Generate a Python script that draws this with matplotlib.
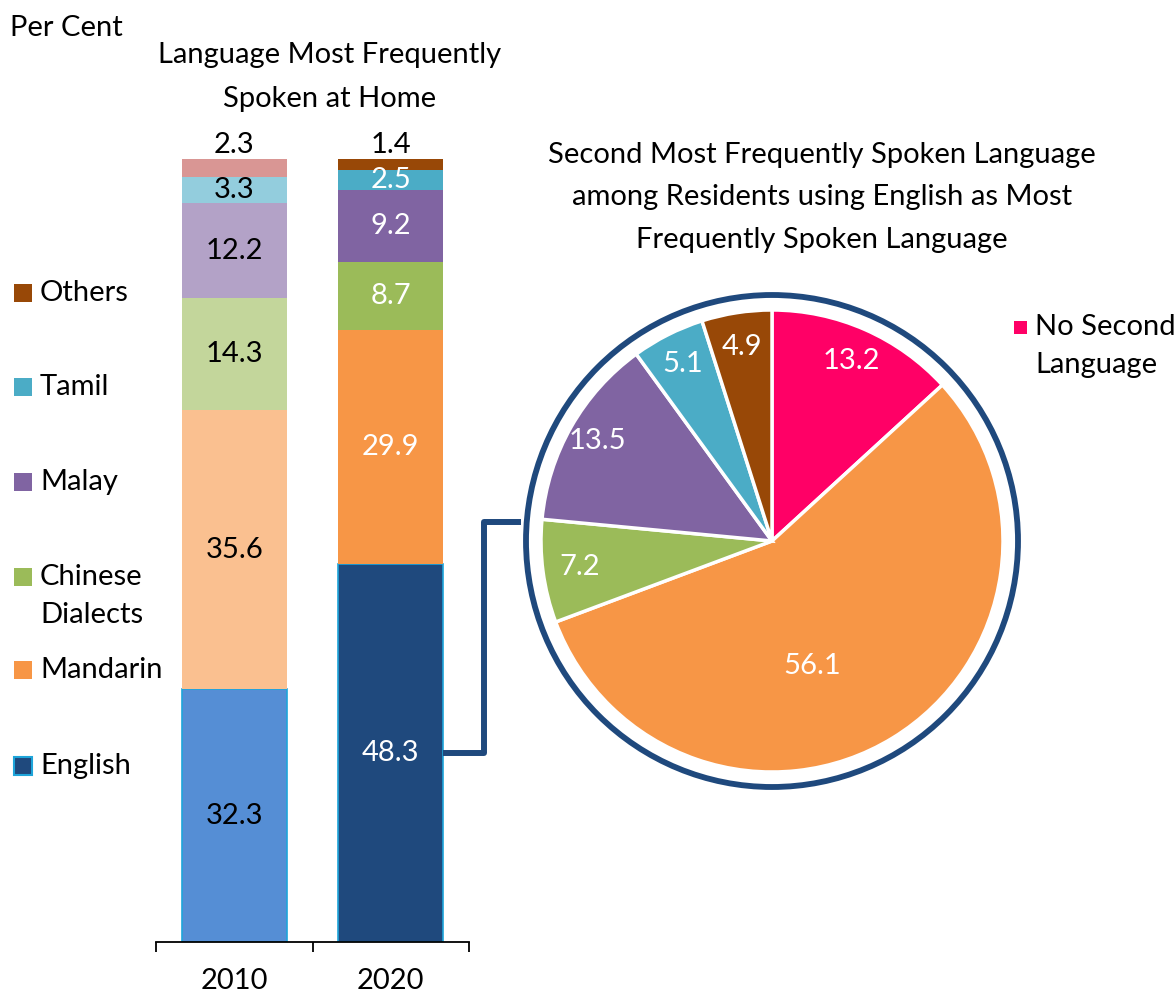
import numpy as np
import matplotlib.pyplot as plt
from matplotlib.patches import Circle, Rectangle

plt.rcParams['font.family'] = ['Lato', 'DejaVu Sans']

# data
years = ['2010', '2020']
languages = ['English', 'Mandarin', 'Chinese\nDialects', 'Malay', 'Tamil', 'Others']
share_2010 = [32.3, 35.6, 14.3, 12.2, 3.3, 2.3]
share_2020 = [48.3, 29.9, 8.7, 9.2, 2.5, 1.4]

second_langs = ['No Second\nLanguage', 'Mandarin', 'Chinese Dialects', 'Malay', 'Tamil', 'Others']
second_share = [13.2, 56.1, 7.2, 13.5, 5.1, 4.9]

colors_2010 = ['#558ED5', '#FAC090', '#C3D69B', '#B3A2C7', '#93CDDD', '#D99694']
colors_2020 = ['#1F497D', '#F79646', '#9BBB59', '#8064A2', '#4BACC6', '#984807']
pie_colors = ['#FF0066', '#F79646', '#9BBB59', '#8064A2', '#4BACC6', '#984807']
navy = '#1F497D'
edge_cyan = '#1EA5DA'

W, H = 1176, 996
FS = 21

def fx(px):
    return px / W

def fy(py):
    return 1 - py / H

fig = plt.figure(figsize=(W / 100, H / 100), dpi=100)

# stacked bars
ax = fig.add_axes([fx(156), fy(942), 313 / W, 783 / H])
bar_w = 0.67
for i, (vals, cols) in enumerate([(share_2010, colors_2010), (share_2020, colors_2020)]):
    bottom = 0
    for j, v in enumerate(vals):
        ec = edge_cyan if j == 0 else 'none'
        ax.bar(i, v, bottom=bottom, width=bar_w, color=cols[j], edgecolor=ec, linewidth=1.2)
        if j == len(vals) - 1:
            ax.text(i, bottom + v + 1.8, f'{v}', ha='center', va='center', fontsize=FS, color='black')
        else:
            tc = 'black' if i == 0 else 'white'
            ax.text(i, bottom + v / 2, f'{v}', ha='center', va='center', fontsize=FS, color=tc)
        bottom += v

ax.set_xlim(-0.5, 1.5)
ax.set_ylim(0, 100)
ax.set_yticks([])
for s in ['top', 'right', 'left']:
    ax.spines[s].set_visible(False)
ax.spines['bottom'].set_linewidth(1.3)
ax.set_xticks([0, 1])
ax.set_xticklabels(years, fontsize=FS)
ax.tick_params(axis='x', which='major', length=0, pad=19)
ax.set_xticks([-0.5, 0.5, 1.5], minor=True)
ax.tick_params(axis='x', which='minor', length=7.5, width=1.3, direction='out')
ax.patch.set_alpha(0)

# overlay in pixel units for pie, connector and free text
pa = fig.add_axes([0, 0, 1, 1])
pc = (772, H - 541)
wedges, _ = pa.pie(second_share, colors=pie_colors, startangle=90, counterclock=False,
                   center=pc, radius=231,
                   wedgeprops=dict(edgecolor='white', linewidth=2.5))
pa.add_patch(Circle(pc, 246, fill=False, edgecolor=navy, linewidth=4.2))
pa.set_xlim(0, W)
pa.set_ylim(0, H)
pa.set_aspect('auto')
pa.axis('off')

label_dist = [0.85, 0.57, 0.84, 0.87, 0.86, 0.85]
label_turn = [0, -13.5, 0, 0, 0, 0]
for w, v, d, t in zip(wedges, second_share, label_dist, label_turn):
    ang = np.deg2rad((w.theta1 + w.theta2) / 2 + t)
    pa.text(pc[0] + d * 231 * np.cos(ang), pc[1] + d * 231 * np.sin(ang), f'{v}',
            ha='center', va='center', fontsize=FS, color='white')

# connector from English 2020 segment to pie ring
start = ax.transData.transform((1 + bar_w / 2, share_2020[0] / 2))
sx, sy = pa.transData.inverted().transform(start)
pa.plot([sx, 484, 484, pc[0] - 251], [sy, sy, H - 522, H - 522], color=navy,
        linewidth=4.3, solid_joinstyle='round', solid_capstyle='butt')

# left legend
leg_y = [766, 670, 577, 482, 387, 293]
for lab, col, y in zip(languages, colors_2020, leg_y):
    ec = edge_cyan if lab == 'English' else 'none'
    pa.add_patch(Rectangle((14, H - y - 9), 18, 18, facecolor=col, edgecolor=ec, linewidth=1.5))
    for k, line in enumerate(lab.split('\n')):
        pa.text(40, H - y - k * 38, line, ha='left', va='center', fontsize=FS)

# pie legend
pa.add_patch(Rectangle((1014, H - 334), 13, 13, facecolor=pie_colors[0], edgecolor='none'))
for k, line in enumerate(second_langs[0].split('\n')):
    pa.text(1035, H - 327 - k * 38, line, ha='left', va='center', fontsize=FS)

# titles
fig.text(fx(10), fy(28), 'Per Cent', ha='left', va='center', fontsize=FS)
for y, line in zip([55, 99], ['Language Most Frequently', 'Spoken at Home']):
    fig.text(fx(330), fy(y), line, ha='center', va='center', fontsize=FS)
pie_title = ['Second Most Frequently Spoken Language',
             'among Residents using English as Most',
             'Frequently Spoken Language']
for y, line in zip([155, 197, 240], pie_title):
    fig.text(fx(822), fy(y), line, ha='center', va='center', fontsize=FS)

fig.savefig('out.png', dpi=100)
